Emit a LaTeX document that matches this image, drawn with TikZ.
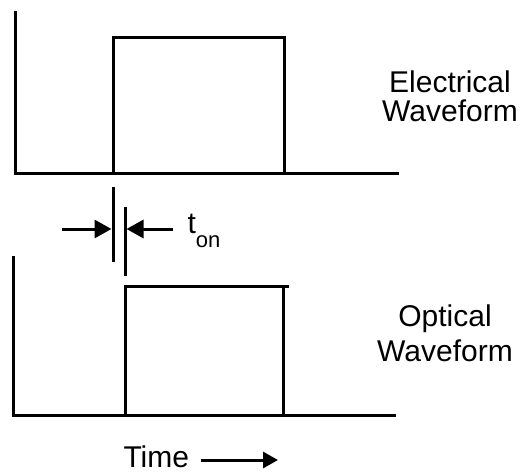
\documentclass[tikz,border=0pt]{standalone}
\usepackage{fontspec}
\setmainfont{Liberation Sans}
\usetikzlibrary{arrows.meta}

\begin{document}
\begin{tikzpicture}[x=1pt, y=-1pt, line width=3pt,
                    wave/.style={line cap=rect},
                    marker/.style={line cap=butt},
                    gap/.style={-{Triangle[length=17pt, width=18pt]}, line cap=butt},
                    label/.style={font=\fontsize{30}{29}\selectfont, align=center, inner sep=0pt}]
    \useasboundingbox (0,0) rectangle (523,475);

    % Electrical Waveform
    \coordinate (eAxisTop) at (15,12);
    \coordinate (eOrigin)  at (15,173);
    \coordinate (eEnd)     at (397,173);
    \coordinate (eRise)    at (113,173);
    \coordinate (eRiseTop) at (113,37);
    \coordinate (eFallTop) at (284,37);
    \coordinate (eFall)    at (284,173);
    \draw[wave] (eAxisTop) -- (eOrigin) -- (eEnd);
    \draw[wave] (eRise) -- (eRiseTop) -- (eFallTop) -- (eFall);
    \node[label] (eLabel) at (450,96.5) {Electrical\\Waveform};

    % Optical Waveform
    \coordinate (oAxisTop) at (13.7,257);
    \coordinate (oOrigin)  at (13.7,415);
    \coordinate (oEnd)     at (394,415);
    \coordinate (oRise)    at (125,415);
    \coordinate (oRiseTop) at (125,286);
    \coordinate (oTopEnd)  at (287,286);
    \coordinate (oFallTop) at (283,286);
    \coordinate (oFall)    at (283,415);
    \draw[wave] (oAxisTop) -- (oOrigin) -- (oEnd);
    \draw[wave] (oRise) -- (oRiseTop) -- (oTopEnd);
    \draw[marker] (oFallTop) -- (oFall);
    \node[label] (oLabel) at (445,333.5) {Optical\\[6pt]Waveform};

    % Turn-on Delay
    \coordinate (tickETop) at (113,187);
    \coordinate (tickEBot) at (113,262);
    \coordinate (tickOTop) at (125,207);
    \coordinate (tickOBot) at (125,276);
    \draw[marker] (tickETop) -- (tickEBot);
    \draw[marker] (tickOTop) -- (tickOBot);
    \coordinate (gapFrom) at (62,229);
    \coordinate (gapTo)   at (173,229);
    \draw[gap] (gapFrom) -- (111.5,229);
    \draw[gap] (gapTo) -- (126.5,229);
    \node[anchor=base west, inner sep=0pt, font=\fontsize{30}{30}\selectfont] (ton) at (186,233)
        {t\raisebox{-14pt}{\fontsize{22}{22}\selectfont on}};

    % Time Axis
    \node[anchor=base west, inner sep=0pt, font=\fontsize{30}{30}\selectfont] (time) at (122,467) {Time};
    \coordinate (timeTip) at (278,460);
    \draw[-{Triangle[length=15pt, width=16pt]}, line cap=butt] (time.east |- timeTip) ++(10,0) -- (timeTip);
\end{tikzpicture}
\end{document}
